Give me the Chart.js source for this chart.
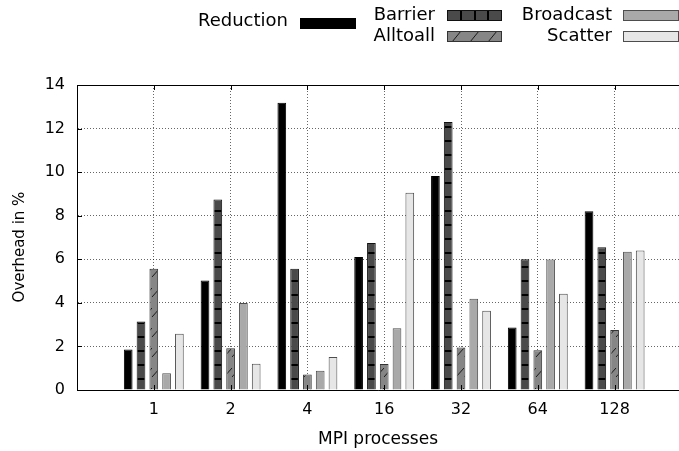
<!DOCTYPE html>
<html>
<head>
<meta charset="utf-8">
<script src="https://cdn.jsdelivr.net/npm/chart.js@4.4.1/dist/chart.umd.min.js"></script>
<style>
  html, body { margin: 0; padding: 0; background: #fff; overflow: hidden; }
</style>
</head>
<body>
<canvas id="overheadChart" width="679" height="451"></canvas>
<script>
const processCounts = ['1', '2', '4', '16', '32', '64', '128'];
const reduction = [1.86, 5.03, 13.19, 6.11, 9.82, 2.87, 8.21];
const barrier   = [3.15, 8.74, 5.57, 6.75, 12.30, 6.00, 6.55];
const alltoall  = [5.56, 1.92, 0.71, 1.19, 1.95, 1.82, 2.75];
const broadcast = [0.77, 3.99, 0.88, 2.83, 4.19, 5.99, 6.35];
const scatter   = [2.58, 1.20, 1.52, 9.05, 3.64, 4.42, 6.40];
const yMax = 14;
const yStep = 2;

const FONT = "'DejaVu Sans', sans-serif";
const canvas = document.getElementById("overheadChart");
const ctx = canvas.getContext("2d");

// gnuplot-ish fill patterns
function makeBarrierPattern() {
  const c = document.createElement("canvas");
  c.width = 8; c.height = 14;
  const g = c.getContext("2d");
  g.fillStyle = "#4a4a4a";
  g.fillRect(0, 0, 8, 14);
  g.fillStyle = "#000";
  g.fillRect(0, 0, 8, 2);
  return ctx.createPattern(c, "repeat");
}

function makeAlltoallPattern() {
  const c = document.createElement("canvas");
  c.width = 8; c.height = 20;
  const g = c.getContext("2d");
  g.fillStyle = "#868686";
  g.fillRect(0, 0, 8, 20);
  g.strokeStyle = "#1a1a1a";
  g.lineWidth = 1;
  g.beginPath();
  g.moveTo(0, 17);
  g.lineTo(8, 8);
  g.stroke();
  return ctx.createPattern(c, "repeat");
}

const toPoints = (arr) => arr.map((v, i) => ({ x: i + 1, y: v }));

const series = [
  { label: "Reduction", data: reduction, fill: "#000000", border: "#000000", key: "solid" },
  { label: "Barrier",   data: barrier,   fill: makeBarrierPattern(), border: "#111111", key: "barrier" },
  { label: "Alltoall",  data: alltoall,  fill: makeAlltoallPattern(), border: "#333333", key: "alltoall" },
  { label: "Broadcast", data: broadcast, fill: "#a9a9a9", border: "#4d4d4d", key: "solid" },
  { label: "Scatter",   data: scatter,   fill: "#e6e6e6", border: "#4d4d4d", key: "solid" },
];

// legend boxes laid out like the gnuplot key (3 columns, 2 rows)
const legendSlots = [
  { textRight: 288, y: 21.5, box: [300, 18, 56, 11] },
  { textRight: 435, y: 15, box: [447, 10, 55, 11] },
  { textRight: 435, y: 36, box: [447, 31, 55, 11] },
  { textRight: 612, y: 15, box: [623, 10, 56, 11] },
  { textRight: 612, y: 36, box: [623, 31, 56, 11] },
];

const frameAndKey = {
  id: "frameAndKey",
  afterDraw(chart) {
    const { ctx, chartArea: a, scales } = chart;
    ctx.save();
    // top border
    ctx.strokeStyle = "#000";
    ctx.lineWidth = 1;
    ctx.beginPath();
    ctx.moveTo(a.left, a.top + 0.5);
    ctx.lineTo(a.right, a.top + 0.5);
    ctx.stroke();
    // inward tick marks
    ctx.beginPath();
    for (let v = yStep; v < yMax; v += yStep) {
      const y = Math.round(scales.y.getPixelForValue(v)) + 0.5;
      ctx.moveTo(a.left, y);
      ctx.lineTo(a.left + 5, y);
    }
    processCounts.forEach((_, i) => {
      const x = Math.round(scales.x.getPixelForValue(i + 1)) + 0.5;
      ctx.moveTo(x, a.bottom);
      ctx.lineTo(x, a.bottom - 5);
      ctx.moveTo(x, a.top);
      ctx.lineTo(x, a.top + 5);
    });
    ctx.stroke();

    // key
    ctx.font = "18px " + FONT;
    ctx.textAlign = "right";
    ctx.textBaseline = "middle";
    series.forEach((s, i) => {
      const slot = legendSlots[i];
      ctx.fillStyle = "#000";
      ctx.fillText(s.label, slot.textRight, slot.y);
      const [bx, by, bw, bh] = slot.box;
      if (s.key === "barrier") {
        ctx.fillStyle = "#4a4a4a";
        ctx.fillRect(bx, by, bw, bh);
        ctx.fillStyle = "#000";
        for (let k = 1; k < 4; k++) ctx.fillRect(bx + Math.round(k * bw / 4) - 1, by, 2, bh);
      } else if (s.key === "alltoall") {
        ctx.fillStyle = "#868686";
        ctx.fillRect(bx, by, bw, bh);
        ctx.strokeStyle = "#1a1a1a";
        ctx.beginPath();
        for (let k = 0; k < 3; k++) {
          const sx = bx + 5 + k * 18;
          ctx.moveTo(sx, by + bh);
          ctx.lineTo(sx + 9, by);
        }
        ctx.stroke();
      } else {
        ctx.fillStyle = s.fill;
        ctx.fillRect(bx, by, bw, bh);
      }
      ctx.strokeStyle = s.border;
      ctx.lineWidth = 1;
      ctx.strokeRect(bx + 0.5, by + 0.5, bw - 1, bh - 1);
    });
    ctx.restore();
  }
};

const dotted = {
  color: "rgba(0,0,0,0.6)",
  lineWidth: 1,
  drawTicks: false,
};

new Chart(canvas, {
  type: "bar",
  data: {
    datasets: series.map(s => ({
      label: s.label,
      data: toPoints(s.data),
      backgroundColor: s.fill,
      borderColor: s.border,
      borderWidth: 1,
      categoryPercentage: 0.833,
      barPercentage: 0.68,
    }))
  },
  options: {
    responsive: false,
    animation: false,
    devicePixelRatio: 1,
    layout: { padding: { top: 85, left: 0, right: 0, bottom: 0 } },
    plugins: {
      legend: { display: false },
      tooltip: { enabled: false }
    },
    scales: {
      x: {
        type: "linear",
        offset: false,
        min: 0,
        max: (679 - 77) / 76.8,
        afterBuildTicks: (scale) => {
          scale.ticks = processCounts.map((_, i) => ({ value: i + 1 }));
        },
        afterFit: (scale) => { scale.height = 61; },
        ticks: {
          autoSkip: false,
          maxRotation: 0,
          padding: 10,
          color: "#000",
          font: { family: FONT, size: 16 },
          callback: (value) => processCounts[value - 1]
        },
        grid: { ...dotted, offset: false },
        border: { display: true, color: "#000", width: 1, dash: [1, 2] },
        title: {
          display: true,
          text: "MPI processes",
          color: "#000",
          font: { family: FONT, size: 17 },
          padding: { top: 0, bottom: 1 }
        }
      },
      y: {
        min: 0,
        max: yMax,
        afterFit: (scale) => { scale.width = 77; },
        ticks: {
          stepSize: yStep,
          padding: 12,
          color: "#000",
          font: { family: FONT, size: 16 }
        },
        grid: dotted,
        border: { display: true, color: "#000", width: 1, dash: [1, 2] },
        title: {
          display: true,
          // trailing spaces nudge the centred label a little lower, as in the original
          text: "Overhead in %    ",
          color: "#000",
          font: { family: FONT, size: 15 },
          padding: { top: 11, bottom: 0 }
        }
      }
    }
  },
  plugins: [frameAndKey]
});
</script>
</body>
</html>
